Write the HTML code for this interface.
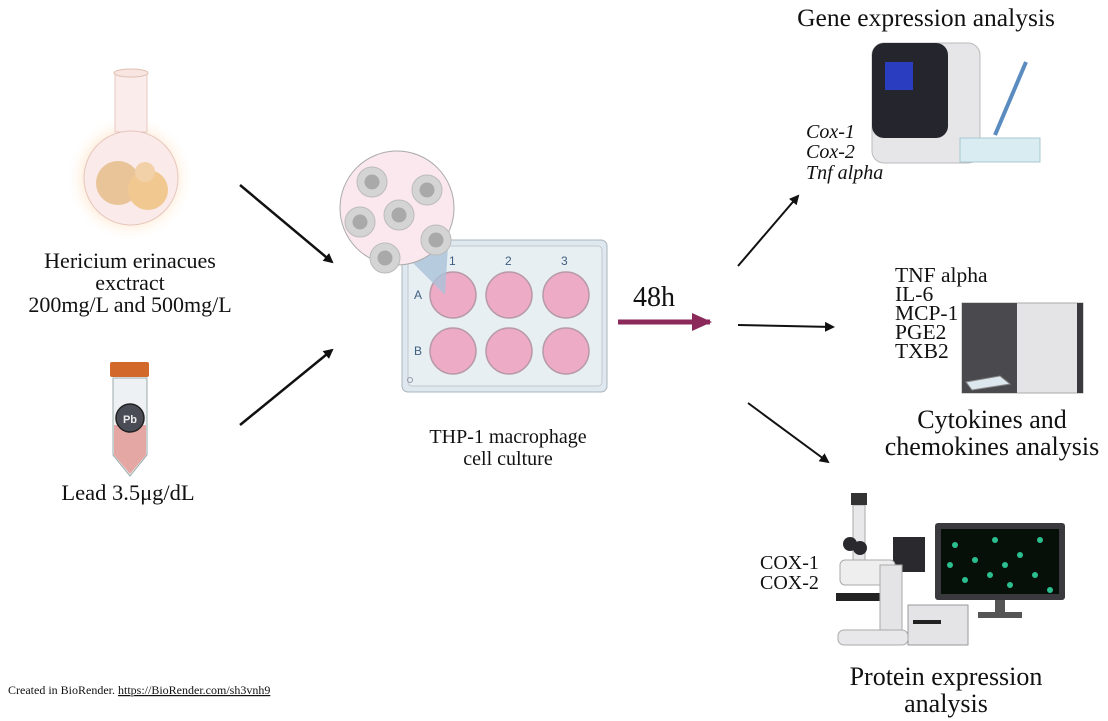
<!DOCTYPE html>
<html><head><meta charset="utf-8"><style>
html,body{margin:0;padding:0;background:#fff;}
svg{display:block;}
text{font-family:"Liberation Serif",serif;fill:#111;}
</style></head><body>
<svg width="1108" height="721" viewBox="0 0 1108 721" xmlns="http://www.w3.org/2000/svg">
<defs>
<marker id="ah" markerWidth="10" markerHeight="10" refX="8" refY="5" orient="auto" markerUnits="userSpaceOnUse"><path d="M0,0 L10,5 L0,10 z" fill="#111"/></marker>
<marker id="ap" markerWidth="22" markerHeight="22" refX="18" refY="11" orient="auto" markerUnits="userSpaceOnUse"><path d="M0,2 L20,11 L0,20 z" fill="#8b2a5a"/></marker>
<radialGradient id="glow"><stop offset="0.6" stop-color="#ffe0c0"/><stop offset="1" stop-color="#fff" stop-opacity="0"/></radialGradient>
</defs>

<!-- Flask -->
<circle cx="130" cy="178" r="64" fill="url(#glow)"/>
<rect x="115" y="72" width="32" height="60" fill="#fbecec" stroke="#e8c8c0"/>
<ellipse cx="131" cy="73" rx="17" ry="4" fill="#f8e4e0" stroke="#e0c0b0"/>
<circle cx="131" cy="178" r="47" fill="#faeaea" stroke="#e6c6bc"/>
<circle cx="118" cy="183" r="22" fill="#e8c498"/>
<circle cx="148" cy="190" r="20" fill="#f1c890"/>
<circle cx="145" cy="172" r="10" fill="#f2d0a8"/>

<!-- Tube -->
<path d="M113,378 L147,378 L147,455 L130,476 L113,455 Z" fill="#eef1f4" stroke="#9aa"/>
<path d="M114,425 L146,425 L146,455 L130,474 L114,455 Z" fill="#e4a7a4"/>
<rect x="110" y="362" width="39" height="15" rx="2" fill="#d2692a"/>
<circle cx="130" cy="418" r="14" fill="#4a4d55" stroke="#222" stroke-width="1.5"/>
<text x="130" y="423" text-anchor="middle" font-size="11" font-weight="bold" style="fill:#eee;font-family:'Liberation Sans',sans-serif">Pb</text>

<text x="130" y="268" text-anchor="middle" font-size="22">Hericium erinacues</text>
<text x="130" y="290" text-anchor="middle" font-size="22">exctract</text>
<text x="130" y="312" text-anchor="middle" font-size="22">200mg/L and 500mg/L</text>
<text x="128" y="500" text-anchor="middle" font-size="22.5">Lead 3.5μg/dL</text>

<!-- arrows -->
<line x1="240" y1="185" x2="332" y2="262" stroke="#111" stroke-width="2.5" marker-end="url(#ah)"/>
<line x1="240" y1="425" x2="332" y2="350" stroke="#111" stroke-width="2.5" marker-end="url(#ah)"/>
<line x1="618" y1="322" x2="710" y2="322" stroke="#8b2a5a" stroke-width="5" marker-end="url(#ap)"/>
<line x1="738" y1="266" x2="798" y2="196" stroke="#111" stroke-width="2" marker-end="url(#ah)"/>
<line x1="738" y1="325" x2="833" y2="327" stroke="#111" stroke-width="2" marker-end="url(#ah)"/>
<line x1="748" y1="403" x2="828" y2="462" stroke="#111" stroke-width="2" marker-end="url(#ah)"/>

<!-- Plate -->
<rect x="402" y="240" width="205" height="152" rx="6" fill="#dfe8ee" stroke="#a8b4bc"/>
<rect x="408" y="246" width="194" height="140" rx="4" fill="#e8eff3" stroke="#c0cad0"/>
<g fill="#edabc6" stroke="#b79aa8" stroke-width="1.5">
<circle cx="453" cy="295" r="23"/><circle cx="509" cy="295" r="23"/><circle cx="566" cy="295" r="23"/>
<circle cx="453" cy="351" r="23"/><circle cx="509" cy="351" r="23"/><circle cx="566" cy="351" r="23"/>
</g>
<g font-size="12">
<text x="449" y="265" style="fill:#3d5f80;font-family:'Liberation Sans',sans-serif">1</text>
<text x="505" y="265" style="fill:#3d5f80;font-family:'Liberation Sans',sans-serif">2</text>
<text x="561" y="265" style="fill:#3d5f80;font-family:'Liberation Sans',sans-serif">3</text>
<text x="414" y="299" style="fill:#3d5f80;font-family:'Liberation Sans',sans-serif">A</text>
<text x="414" y="355" style="fill:#3d5f80;font-family:'Liberation Sans',sans-serif">B</text>
</g>
<circle cx="410" cy="380" r="2.5" fill="none" stroke="#99a"/>
<path d="M395,245 L448,246 L445,295 Z" fill="#a9c2d8" opacity="0.8"/>
<circle cx="397" cy="208" r="57" fill="#fbe8ee" stroke="#aaa"/>
<g fill="#d4d4d4" stroke="#bbb"><circle cx="372" cy="182" r="15"/><circle cx="427" cy="190" r="15"/><circle cx="399" cy="215" r="15"/><circle cx="360" cy="222" r="15"/><circle cx="436" cy="240" r="15"/><circle cx="385" cy="258" r="15"/></g>
<g fill="#a9a9a9"><circle cx="372" cy="182" r="7.5"/><circle cx="427" cy="190" r="7.5"/><circle cx="399" cy="215" r="7.5"/><circle cx="360" cy="222" r="7.5"/><circle cx="436" cy="240" r="7.5"/><circle cx="385" cy="258" r="7.5"/></g>

<text x="508" y="443" text-anchor="middle" font-size="20">THP-1 macrophage</text>
<text x="508" y="465" text-anchor="middle" font-size="20">cell culture</text>
<text x="633" y="306" font-size="28">48h</text>

<!-- qPCR -->
<text x="926" y="26" text-anchor="middle" font-size="25.5">Gene expression analysis</text>
<rect x="872" y="43" width="108" height="120" rx="12" fill="#e6e6e8" stroke="#bbb"/>
<rect x="872" y="43" width="76" height="95" rx="12" fill="#25252d"/>
<rect x="885" y="62" width="28" height="28" fill="#2a3cc0"/>
<rect x="960" y="138" width="80" height="24" fill="#d8ecf2" stroke="#a8c8d2"/>
<line x1="1026" y1="62" x2="995" y2="135" stroke="#5b8cc0" stroke-width="4"/>
<g font-style="italic" font-size="20">
<text x="806" y="138">Cox-1</text><text x="806" y="158">Cox-2</text><text x="806" y="179">Tnf alpha</text></g>

<!-- plate reader -->
<g font-size="21.5"><text x="895" y="282">TNF alpha</text><text x="895" y="301">IL-6</text><text x="895" y="320">MCP-1</text><text x="895" y="339">PGE2</text><text x="895" y="358">TXB2</text></g>
<rect x="962" y="303" width="121" height="90" fill="#e4e4e6" stroke="#aaa"/>
<rect x="962" y="303" width="55" height="90" fill="#4a4a4e"/>
<rect x="1077" y="303" width="6" height="90" fill="#3a3a3e"/>
<path d="M966,382 L1000,376 L1010,384 L972,390 Z" fill="#dde8ee" stroke="#888"/>
<text x="992" y="428" text-anchor="middle" font-size="26">Cytokines and</text>
<text x="992" y="455" text-anchor="middle" font-size="26">chemokines analysis</text>

<!-- microscope -->
<rect x="935" y="523" width="130" height="77" rx="3" fill="#3a3a3e"/>
<rect x="941" y="529" width="118" height="65" fill="#061008"/>
<g fill="#2bbf90"><circle cx="955" cy="545" r="3"/><circle cx="975" cy="560" r="3"/><circle cx="995" cy="540" r="3"/><circle cx="1020" cy="555" r="3"/><circle cx="1040" cy="540" r="3"/><circle cx="965" cy="580" r="3"/><circle cx="990" cy="575" r="3"/><circle cx="1010" cy="585" r="3"/><circle cx="1035" cy="575" r="3"/><circle cx="1050" cy="590" r="3"/><circle cx="1005" cy="565" r="3"/><circle cx="950" cy="565" r="3"/></g>
<rect x="995" y="600" width="10" height="14" fill="#555"/><rect x="978" y="612" width="44" height="6" fill="#555"/>
<rect x="893" y="537" width="32" height="35" fill="#2a2a2e"/>
<rect x="908" y="605" width="60" height="40" fill="#e4e4e6" stroke="#999"/>
<rect x="913" y="620" width="28" height="4" fill="#222"/>
<rect x="853" y="505" width="12" height="60" fill="#e8e8ea" stroke="#aaa"/>
<rect x="851" y="493" width="16" height="12" fill="#333"/>
<rect x="840" y="560" width="55" height="25" rx="5" fill="#eee" stroke="#aaa"/>
<rect x="836" y="593" width="48" height="8" fill="#222"/>
<rect x="880" y="565" width="22" height="75" fill="#e4e4e6" stroke="#aaa"/>
<rect x="838" y="630" width="70" height="15" rx="6" fill="#e8e8ea" stroke="#aaa"/>
<circle cx="850" cy="544" r="7" fill="#2a2a2e"/><circle cx="860" cy="548" r="7" fill="#2a2a2e"/>
<g font-size="20"><text x="760" y="569">COX-1</text><text x="760" y="589">COX-2</text></g>
<text x="946" y="685" text-anchor="middle" font-size="26">Protein expression</text>
<text x="946" y="712" text-anchor="middle" font-size="26">analysis</text>

<text x="8" y="694" font-size="12">Created in BioRender.  <tspan text-decoration="underline">https://BioRender.com/sh3vnh9</tspan></text>
</svg>
</body></html>
